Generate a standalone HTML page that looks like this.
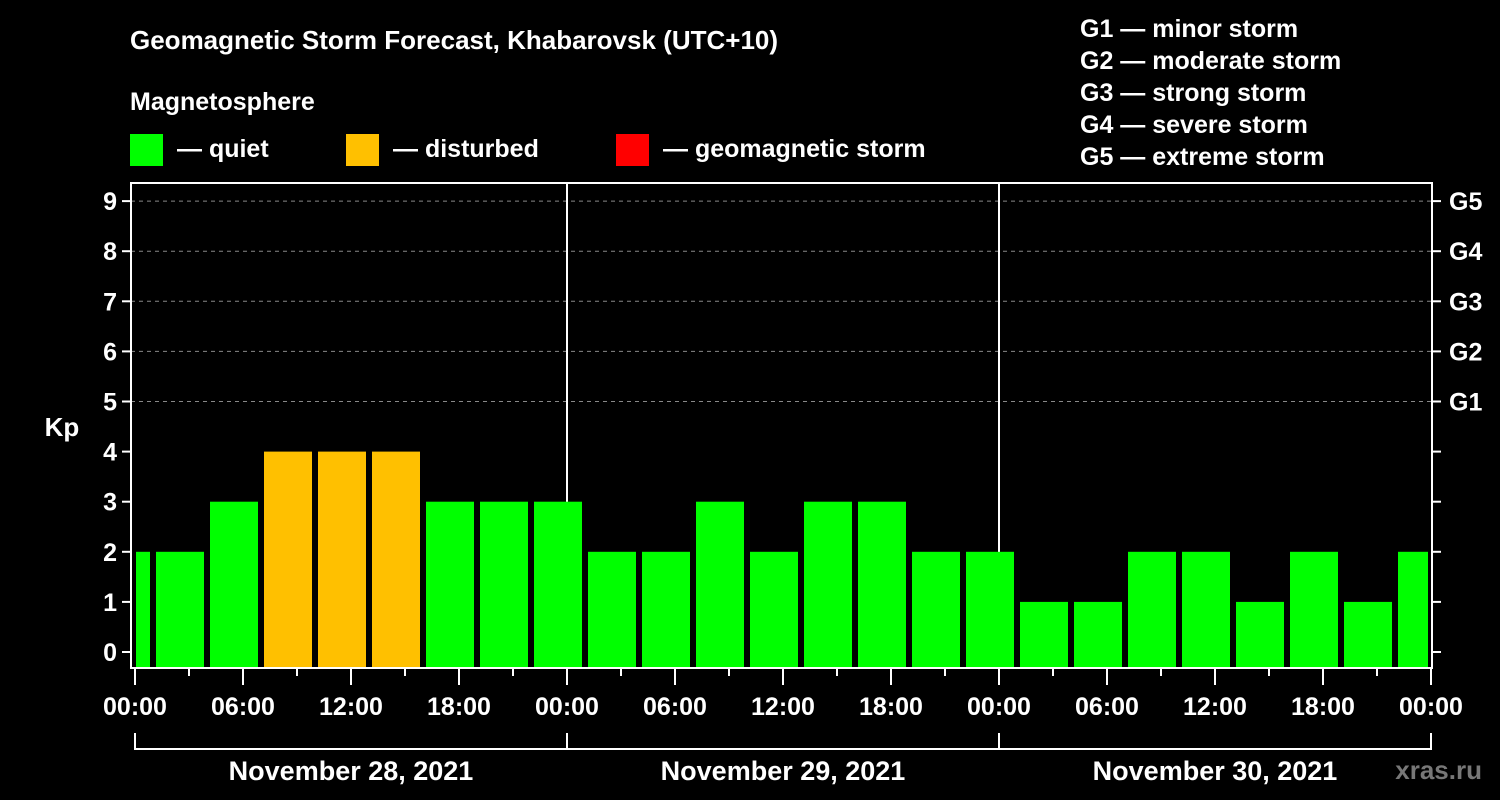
<!DOCTYPE html>
<html><head><meta charset="utf-8"><style>
html,body{margin:0;padding:0;background:#000;width:1500px;height:800px;overflow:hidden}
svg{display:block;font-family:"Liberation Sans",Arial,sans-serif;font-weight:bold}
</style></head><body>
<svg id="chart" width="1500" height="800" viewBox="0 0 1500 800">
<rect width="1500" height="800" fill="#000"/>
<text x="130" y="49" fill="#fff" font-size="26">Geomagnetic Storm Forecast, Khabarovsk (UTC+10)</text>
<text x="130" y="110" fill="#fff" font-size="25">Magnetosphere</text>
<g><rect x="130" y="134" width="33" height="32" fill="#00ff00"/><text x="177" y="157" fill="#fff" font-size="25">— quiet</text></g>
<g><rect x="346" y="134" width="33" height="32" fill="#ffc000"/><text x="393" y="157" fill="#fff" font-size="25">— disturbed</text></g>
<g><rect x="616" y="134" width="33" height="32" fill="#ff0000"/><text x="663" y="157" fill="#fff" font-size="25">— geomagnetic storm</text></g>
<g fill="#fff" font-size="25">
<text x="1080" y="37">G1 — minor storm</text>
<text x="1080" y="69">G2 — moderate storm</text>
<text x="1080" y="101">G3 — strong storm</text>
<text x="1080" y="133">G4 — severe storm</text>
<text x="1080" y="165">G5 — extreme storm</text>
</g>
<g id="grid"></g>
<g id="bars"></g>
<g id="axes"></g>
<text x="62" y="436" fill="#fff" font-size="26" text-anchor="middle">Kp</text>
<text x="1482" y="779" fill="#777" font-size="26" text-anchor="end">xras.ru</text>
</svg>
<script>
const kpValues=[2,2,3,4,4,4,3,3,3,2,2,3,2,3,3,2,2,1,1,2,2,1,2,1,2];
const startHour=-2;
const stepHours=3;
const yTicks=[0,1,2,3,4,5,6,7,8,9];
const gLabels=["G1","G2","G3","G4","G5"];
const gLevels=[5,6,7,8,9];
const xTickLabels=["00:00","06:00","12:00","18:00","00:00","06:00","12:00","18:00","00:00","06:00","12:00","18:00","00:00"];
const dayLabels=["November 28, 2021","November 29, 2021","November 30, 2021"];
const NS="http://www.w3.org/2000/svg";
const L=131,R=1432,T=183,B=668,X0=135,PXH=18;
const xs=h=>X0+h*PXH;
const ys=v=>652-v*50.1;
function mk(tag,attrs,parent,text){const e=document.createElementNS(NS,tag);for(const k in attrs)e.setAttribute(k,attrs[k]);if(text!==undefined)e.textContent=text;parent.appendChild(e);return e;}
const grid=document.getElementById('grid'),bars=document.getElementById('bars'),axes=document.getElementById('axes');
gLevels.forEach((v,i)=>{
 const l=mk('line',{x1:L,x2:R,y1:ys(v),y2:ys(v),stroke:'#888','stroke-width':1,'stroke-dasharray':'4,4'},grid);
 
 
});
[1,2].forEach(d=>{
 const l=mk('line',{x1:xs(24*d),x2:xs(24*d),y1:T,y2:B,stroke:'#fff','stroke-width':2},grid);
 
 
});
kpValues.forEach((v,i)=>{
 const h0=startHour+i*stepHours;
 let x1=xs(h0)+3,x2=xs(h0+stepHours)-3;
 x1=Math.max(x1,L+5);x2=Math.min(x2,R-4);
 const col=v>=5?'#ff0000':(v>=4?'#ffc000':'#00ff00');
 const r=mk('rect',{x:x1,y:ys(v),width:x2-x1,height:B-ys(v),fill:col},bars);
 
 
});
const frame=mk('rect',{x:L,y:T,width:R-L,height:B-T,fill:'none',stroke:'#fff','stroke-width':2},axes);


yTicks.forEach(v=>{
 mk('line',{x1:L-9,x2:L,y1:ys(v),y2:ys(v),stroke:'#fff','stroke-width':2},axes);
 mk('line',{x1:R,x2:R+9,y1:ys(v),y2:ys(v),stroke:'#fff','stroke-width':2},axes);
 const t=mk('text',{x:L-14,y:ys(v)+9,fill:'#fff','font-size':25,'text-anchor':'end'},axes,String(v));
 
 
});
gLabels.forEach((g,i)=>{
 const t=mk('text',{x:R+17,y:ys(gLevels[i])+9,fill:'#fff','font-size':25},axes,g);
 
 
});
for(let h=0;h<=72;h+=3){
 const major=h%6===0;
 mk('line',{x1:xs(h),x2:xs(h),y1:B,y2:B+(major?17:8),stroke:'#fff','stroke-width':2},axes);
}
xTickLabels.forEach((s,i)=>{
 const t=mk('text',{x:xs(i*6),y:715,fill:'#fff','font-size':25,'text-anchor':'middle'},axes,s);
 
 
});
dayLabels.forEach((s,i)=>{
 const a=xs(i*24),b=xs(i*24+24);
 mk('path',{d:`M${a} 733V749H${b}V733`,fill:'none',stroke:'#fff','stroke-width':2},axes);
 const t=mk('text',{x:(a+b)/2,y:780,fill:'#fff','font-size':27,'text-anchor':'middle'},axes,s);
 
 
});
</script>
</body></html>
